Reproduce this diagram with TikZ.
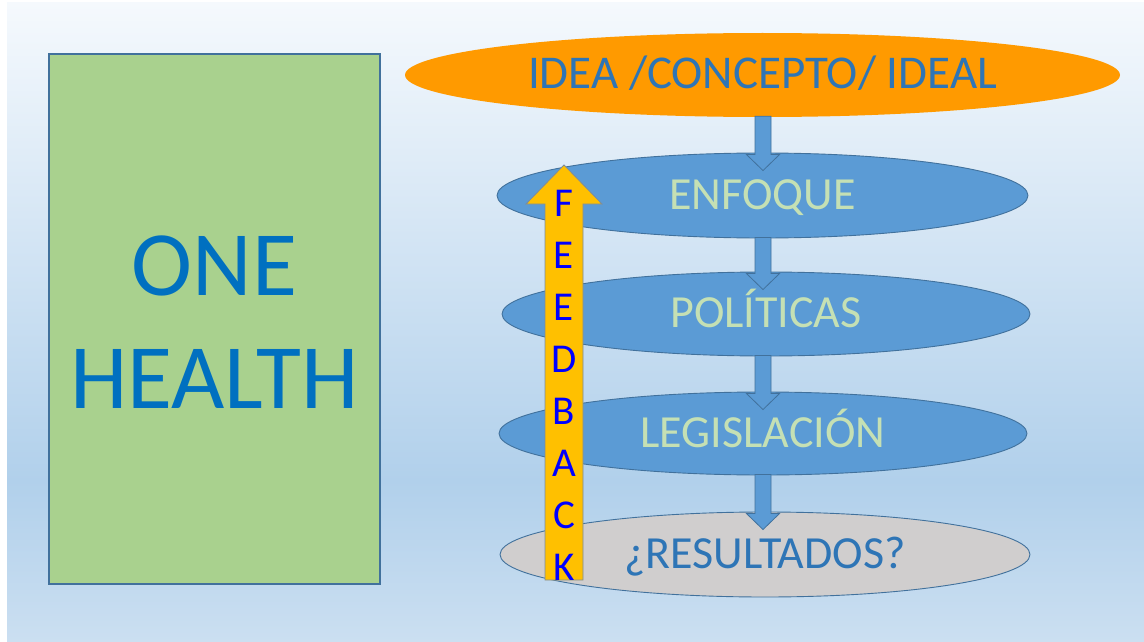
\documentclass[tikz,border=0pt]{standalone}
\usepackage{fontspec}
\setmainfont{Carlito}
\usetikzlibrary{shapes.geometric,calc}
\definecolor{bgtop}{HTML}{F5F9FD}
\definecolor{bgmid}{HTML}{B1D0EB}
\definecolor{bgbot}{HTML}{CBDFF1}
\definecolor{greenfill}{HTML}{A9D18E}
\definecolor{edgeblue}{HTML}{41719C}
\definecolor{onehealthblue}{HTML}{0070C0}
\definecolor{ideaorange}{HTML}{FF9A00}
\definecolor{stepblue}{HTML}{5B9BD5}
\definecolor{steptext}{HTML}{C5E0B4}
\definecolor{darktext}{HTML}{2E75B6}
\definecolor{resgrey}{HTML}{D0CECE}
\definecolor{fbfill}{HTML}{FFC000}
\definecolor{fbedge}{HTML}{7C8C9C}
\definecolor{fbletter}{HTML}{0000FF}
\begin{document}
\begin{tikzpicture}[x=1pt,y=-1pt,
  ohtext/.style={text=onehealthblue, font=\fontsize{92}{92}\selectfont, inner sep=0pt},
  ellbase/.style={ellipse, inner sep=0pt, text height=27pt, text depth=0pt, font=\fontsize{46}{46}\selectfont},
  stepell/.style={ellbase, fill=stepblue, draw=edgeblue, line width=0.9pt, text=steptext},
  ideaell/.style={ellbase, fill=ideaorange, text=darktext, font=\fontsize{47}{47}\selectfont},
  resell/.style={ellbase, fill=resgrey, draw=edgeblue, line width=0.9pt, text=darktext},
  blockarrow/.style={fill=stepblue, draw=edgeblue, line width=0.8pt, line join=miter},
  fbarrow/.style={fill=fbfill, draw=fbedge, line width=0.8pt},
  fbchar/.style={text=fbletter, font=\fontsize{41}{41}\selectfont, inner sep=0pt, anchor=base}
]
\useasboundingbox (0,0) rectangle (1144,642);
\fill[white] (0,0) rectangle (1144,642);
\shade[top color=bgtop, bottom color=bgmid] (7,3) rectangle (1144,481);
\shade[top color=bgmid, bottom color=bgbot] (7,480) rectangle (1144,642);

% ONE HEALTH box
\node[draw=edgeblue, fill=greenfill, line width=1.2pt, inner sep=0pt,
      minimum width=331pt, minimum height=530pt] (onehealth) at (214.5,319) {};
\node[ohtext, anchor=base] (one) at (214.5,295) {ONE};
\node[ohtext, anchor=base] (health) at (214.5,408) {HEALTH};

% ellipses
\node[ideaell, minimum width=715pt, minimum height=84pt] (idea) at (762.5,75) {IDEA /CONCEPTO/ IDEAL};
\node[stepell, minimum width=531pt, minimum height=85pt] (enfoque) at (762.5,195.5) {ENFOQUE};
\node[stepell, minimum width=528pt, minimum height=84pt] (politicas) at (766,314) {POLÍTICAS};
\node[stepell, minimum width=528pt, minimum height=83pt] (legislacion) at (763,433.5) {LEGISLACIÓN};
\node[resell, minimum width=530pt, minimum height=85pt] (resultados) at (765,554.5) {¿RESULTADOS?};

% down block arrows
\coordinate (spine) at (763,0);
\newcommand\downblock[2]{%
  \draw[blockarrow] let \p1=(#1.south), \p2=(#2.north), \p3=(spine) in
    (\x3-8pt,\y1+1pt) -- (\x3-8pt,\y2-2pt) -- (\x3-16.5pt,\y2-2pt) -- (\x3,\y2-18pt)
    -- (\x3+16.5pt,\y2-2pt) -- (\x3+8pt,\y2-2pt) -- (\x3+8pt,\y1+1pt) -- cycle;}
\downblock{idea}{enfoque}
\downblock{enfoque}{politicas}
\downblock{politicas}{legislacion}
\downblock{legislacion}{resultados}

% feedback arrow
\draw[fbarrow] (545,580) -- (545,204) -- (526,204) -- (564,165) -- (602,204) -- (583,204) -- (583,580) -- cycle;
\foreach \l [count=\i from 0] in {F,E,E,D,B,A,C,K}
  \node[fbchar] (fb\i) at (564,{216+52*\i}) {\l};
\end{tikzpicture}
\end{document}
